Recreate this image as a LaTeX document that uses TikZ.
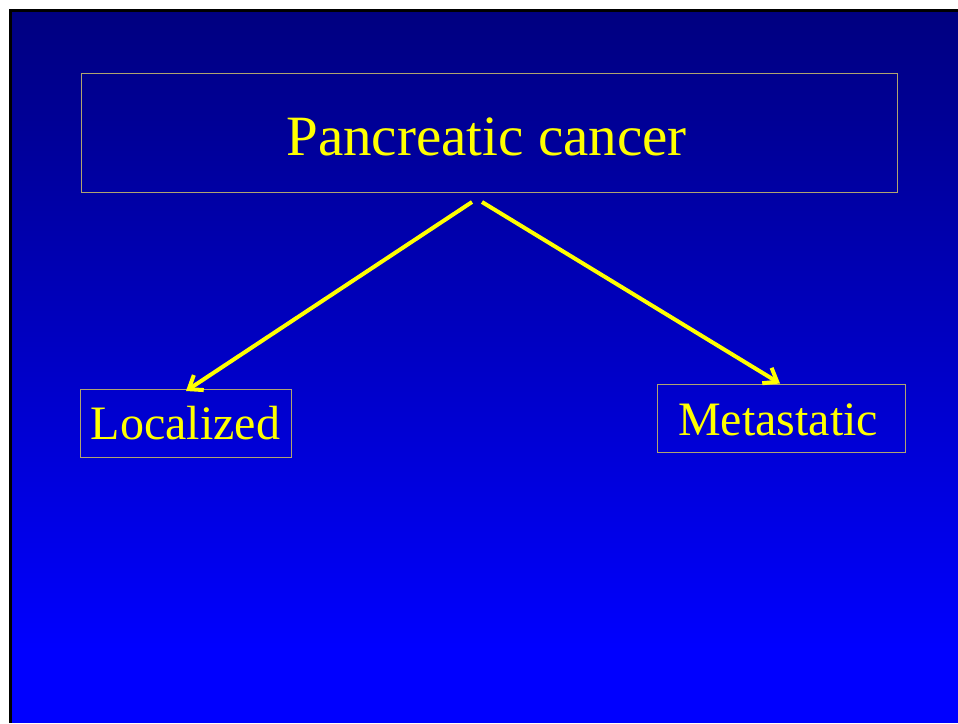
\documentclass[tikz,border=0pt]{standalone}
\usepackage{fontspec}
\setmainfont{Liberation Serif}
\usetikzlibrary{arrows.meta}
\definecolor{slidetop}{RGB}{0,0,128}
\definecolor{slidebot}{RGB}{0,0,255}
\definecolor{boxline}{RGB}{176,164,112}
\definecolor{txtyellow}{RGB}{255,255,0}
\tikzset{
  frame/.style={draw=boxline, line width=1pt, inner sep=0pt},
  lbl/.style={text=txtyellow, anchor=base, inner sep=0pt},
  arr/.style={draw=txtyellow, line width=4pt, -{Straight Barb[length=12pt,width=18pt]}}
}
\begin{document}
\begin{tikzpicture}[x=1pt,y=-1pt]
\useasboundingbox (0,0) rectangle (958,723);
\fill[white] (0,0) rectangle (958,723);
\fill[black] (9,9) rectangle (958,723);
\shade[top color=slidetop, bottom color=slidebot] (12,12) rectangle (958,650);
\fill[slidebot] (12,649.5) rectangle (958,723);
% boxes
\node[frame, minimum width=816pt, minimum height=119pt] (topbox) at (489,132.5) {};
\node[frame, minimum width=210.7pt, minimum height=67.7pt] (locbox) at (186.3,423.2) {};
\node[frame, minimum width=248pt, minimum height=68.3pt] (metbox) at (781,418.8) {};
% texts
\node[lbl, font=\fontsize{57pt}{60pt}\selectfont] (toptxt) at (486.5,155) {Pancreatic cancer};
\node[lbl, font=\fontsize{48pt}{52pt}\selectfont] (loctxt) at (185.4,439) {Localized};
\node[lbl, font=\fontsize{48pt}{52pt}\selectfont] (mettxt) at (778,435) {Metastatic};
% arrows
\coordinate (lstart) at (472,202);
\coordinate (lend) at (186,391);
\coordinate (rstart) at (482,202);
\coordinate (rend) at (780,383.5);
\draw[arr] (lstart) -- (lend);
\draw[arr] (rstart) -- (rend);
\end{tikzpicture}
\end{document}
